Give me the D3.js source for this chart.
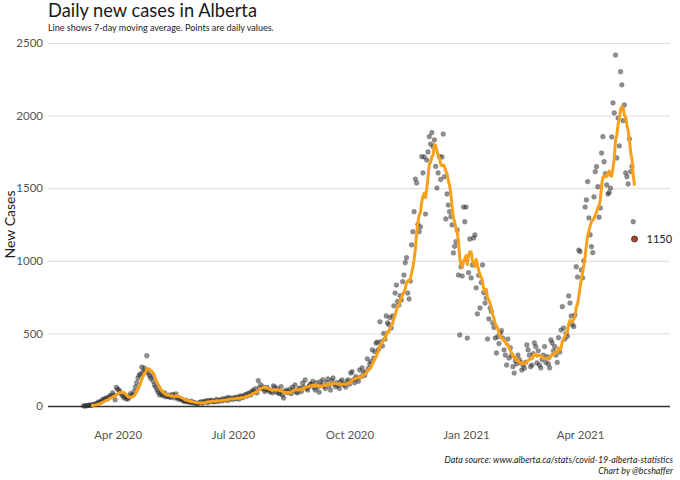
<!DOCTYPE html>
<html><head><meta charset="utf-8">
<script src="https://cdn.jsdelivr.net/npm/d3@7"></script>
<style>body{margin:0;background:#fff;} svg{display:block;font-family:Lato, "Noto Sans", sans-serif;}</style>
</head><body><svg id="chart" width="680" height="480"></svg>
<script>
// ---- data (daily new cases, Alberta), first value = 2020-03-05 ----
const startDate = "2020-03-05";
const mar2020 = [1,0,1,2,4,6,5,8,10,12,14,20,28,25,30,45,40,50,55,48,60,72,68,90,75,42,128];
const apr2020 = [115,110,95,80,70,55,64,50,48,60,85,72,76,100,131,160,193,213,220,268,235,260,240,346,227,210,190,202,170,145];
const may2020 = [130,110,95,76,88,76,70,90,64,64,75,62,58,80,72,55,83,60,45,52,48,40,35,30,38,30,28,25,33,20,25];
const jun2020 = [22,18,15,20,25,30,18,28,32,35,22,38,30,40,33,28,35,45,30,38,42,35,50,40,45,55,38,60,48,52];
const jul2020 = [45,55,60,50,62,48,70,65,58,72,80,68,85,90,75,100,110,95,120,90,174,125,145,118,130,100,110,128,112,98,105];
const aug2020 = [90,138,130,95,120,88,85,133,75,55,99,110,92,100,115,85,130,110,145,95,90,117,125,100,158,130,179,120,110,135,150];
const sep2020 = [150,170,125,110,160,130,95,167,145,180,135,120,160,186,140,110,175,193,150,133,160,140,120,167,179,150,145,130,170,180];
const oct2020 = [150,227,236,180,160,202,190,170,248,200,262,230,210,236,324,260,290,305,386,330,374,433,440,390,580,443,413,500,460,620,572];
const nov2020 = [560,608,537,620,690,778,833,720,695,760,730,856,902,987,1021,778,737,860,1109,1200,1338,1563,1536,1250,1200,1233,1717,1605,1715,1322];
const dec2020 = [1694,1750,1855,1804,1882,1786,1832,1650,1501,1605,1717,1560,1715,1873,1579,1288,1460,1384,1338,1304,1247,1054,1100,1132,1212,902,489,959,895,1370,1269];
const jan2021 = [1370,468,918,1150,882,971,1157,1178,813,634,900,675,850,971,780,709,744,461,600,675,650,572,540,468,365,477,430,500,519,468,386];
const feb2021 = [351,282,461,330,400,350,271,227,310,290,351,320,300,248,282,260,300,420,386,350,271,282,360,434,409,296,380,282];
const mar2021 = [262,320,350,409,300,340,290,262,455,434,380,409,350,300,470,372,523,684,537,461,500,480,758,709,620,560,546,627,959,888,1074];
const apr2021 = [1063,937,882,1000,1370,1419,1545,1295,1178,1097,1056,1440,1614,1648,1510,1300,1364,1742,1855,1682,1600,1522,1460,1470,1500,1853,2087,2018,2417,1708];
const may2021 = [1983,1791,2302,2211,1965,2073,1605,1579,1529,1839,1614,1650,1269,1150];

const yTicks = [0, 500, 1000, 1500, 2000, 2500];
const xTickDates = ["2020-04-01", "2020-07-01", "2020-10-01", "2021-01-01", "2021-04-01"];
const xTickLabels = ["Apr 2020", "Jul 2020", "Oct 2020", "Jan 2021", "Apr 2021"];
const xDomain = ["2020-02-06", "2021-06-11"];

const titleText = "Daily new cases in Alberta";
const subtitleText = "Line shows 7-day moving average. Points are daily values.";
const yTitle = "New Cases";
const captionLines = ["Data source: www.alberta.ca/stats/covid-19-alberta-statistics", "Chart by @bcshaffer"];

// ---- build ----
const daily = [].concat(mar2020, apr2020, may2020, jun2020, jul2020, aug2020, sep2020,
  oct2020, nov2020, dec2020, jan2021, feb2021, mar2021, apr2021, may2021);
const parse = d3.utcParse("%Y-%m-%d");
const t0 = parse(startDate);
const data = daily.map((v, i) => ({date: d3.utcDay.offset(t0, i), value: v}));
const avg = data.slice(6).map((d, k) => ({date: d.date, value: d3.mean(daily.slice(k, k + 7))}));
const last = data[data.length - 1];

const svg = d3.select("#chart");
const L = 48, R = 670, T = 43, B = 406;
const x = d3.scaleUtc().domain(xDomain.map(parse)).range([L, R]);
const y = d3.scaleLinear().domain([0, 2500]).range([B, T]);

// grid
const yAxis = d3.axisLeft(y).tickValues(yTicks).tickSize(-(R - L)).tickPadding(5).tickFormat(d3.format("d"));
const gy = svg.append("g").attr("transform", `translate(${L},0)`).call(yAxis);
gy.select(".domain").remove();
gy.selectAll(".tick line").attr("stroke", "#dcdcdc").attr("stroke-width", 1);
gy.selectAll(".tick text").attr("fill", "#555").attr("font-size", 11.5).attr("font-family", "Lato");
gy.selectAll(".tick").filter(d => d === 0).select("line").attr("stroke", "#333").attr("stroke-width", 1.3);

const xAxis = d3.axisBottom(x).tickValues(xTickDates.map(parse)).tickSize(0).tickPadding(25)
  .tickFormat((d, i) => xTickLabels[i]);
const gx = svg.append("g").attr("transform", `translate(0,${B})`).call(xAxis);
gx.select(".domain").remove();
gx.selectAll(".tick text").attr("fill", "#555").attr("font-size", 11.5).attr("font-family", "Lato");

// points
svg.append("g").selectAll("circle").data(data.slice(0, -1)).join("circle")
  .attr("cx", d => x(d.date)).attr("cy", d => y(d.value)).attr("r", 2.4)
  .attr("fill", "#333").attr("fill-opacity", 0.55)
  .attr("stroke", "#222").attr("stroke-opacity", 0.45).attr("stroke-width", 0.5);

// moving average line
svg.append("path").datum(avg)
  .attr("d", d3.line().x(d => x(d.date)).y(d => y(d.value)))
  .attr("fill", "none").attr("stroke", "#f7a01a").attr("stroke-width", 3)
  .attr("stroke-linejoin", "round");

// last point
svg.append("circle").attr("cx", x(last.date)).attr("cy", y(last.value)).attr("r", 3)
  .attr("fill", "#c0392b").attr("stroke", "#444").attr("stroke-width", 1);
svg.append("text").attr("x", x(last.date) + 12).attr("y", y(last.value) + 4)
  .attr("font-size", 11).attr("fill", "#222").text(last.value);

// titles
svg.append("text").attr("x", 48).attr("y", 17).attr("font-size", 18.3).attr("fill", "#1a1a1a").text(titleText);
svg.append("text").attr("x", 48).attr("y", 31).attr("font-size", 9).attr("fill", "#222").text(subtitleText);
svg.append("text").attr("transform", `translate(15,${(T + B) / 2}) rotate(-90)`)
  .attr("text-anchor", "middle").attr("font-size", 14).attr("fill", "#222").text(yTitle);
svg.append("g").selectAll("text").data(captionLines).join("text")
  .attr("x", 673).attr("y", (d, i) => 463 + i * 10.5).attr("text-anchor", "end")
  .attr("font-size", 8.9).attr("font-style", "italic").attr("fill", "#222").text(d => d);
</script></body></html>
